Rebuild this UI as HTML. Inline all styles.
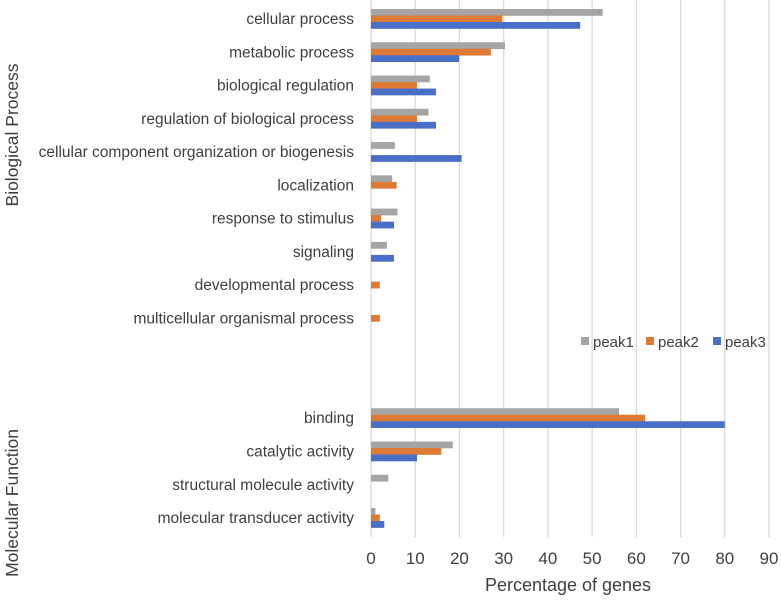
<!DOCTYPE html>
<html><head><meta charset="utf-8"><style>
body{margin:0;background:#fff;}
svg text{font-family:"Liberation Sans",sans-serif;fill:#404040;}
</style></head><body>
<svg id="chart" width="781" height="597" xmlns="http://www.w3.org/2000/svg">
<g id="grid"></g>
<g id="bars"></g>
<g id="ylabels"></g>
<g id="xticks"></g>
<text x="568" y="591" font-size="18" text-anchor="middle">Percentage of genes</text>
<text transform="translate(18,135) rotate(-90)" font-size="17.5" text-anchor="middle">Biological Process</text>
<text transform="translate(18,503) rotate(-90)" font-size="17.5" text-anchor="middle">Molecular Function</text>
<g>
<rect x="581" y="337" width="8" height="8" fill="#a5a5a5"/>
<text x="593" y="347" font-size="15">peak1</text>
<rect x="646" y="337" width="8" height="8" fill="#dd7a36"/>
<text x="658" y="347" font-size="15">peak2</text>
<rect x="713" y="337" width="8" height="8" fill="#4a6fc7"/>
<text x="725" y="347" font-size="15">peak3</text>
</g>
</svg>
<script>
const categories=["cellular process","metabolic process","biological regulation","regulation of biological process","cellular component organization or biogenesis","localization","response to stimulus","signaling","developmental process","multicellular organismal process","","","binding","catalytic activity","structural molecule activity","molecular transducer activity"];
const peak1=[52.4,30.3,13.3,13.0,5.4,4.8,6.0,3.6,0,0,null,null,56.1,18.5,3.9,1.0];
const peak2=[29.7,27.1,10.4,10.4,0,5.8,2.3,0,2.0,2.0,null,null,62.0,15.9,0,2.0];
const peak3=[47.3,19.9,14.7,14.7,20.5,0,5.2,5.2,0,0,null,null,80.0,10.4,0,3.0];
const xTicks=[0,10,20,30,40,50,60,70,80,90];
const NS="http://www.w3.org/2000/svg";
const x0=371,x1=769,xMax=90;
function xs(v){return x0+(x1-x0)*v/xMax;}
const yTop=19,rowH=33.27;
function ys(i){return yTop+i*rowH;}
function mk(tag,attrs,parent){const e=document.createElementNS(NS,tag);for(const k in attrs)e.setAttribute(k,attrs[k]);parent.appendChild(e);return e;}
const grid=document.getElementById('grid'),bars=document.getElementById('bars'),yl=document.getElementById('ylabels'),xt=document.getElementById('xticks');
xTicks.forEach(t=>{
 const l=mk('line',{x1:xs(t),x2:xs(t),y1:0,y2:537,stroke:'#d9d9d9','stroke-width':1.3},grid);
 
 
 const tx=mk('text',{x:xs(t),y:564,'font-size':17,'text-anchor':'middle'},xt);
 tx.textContent=t;
 
 
});
const series=[[peak1,'#a5a5a5','peak1',-10],[peak2,'#dd7a36','peak2',-3.5],[peak3,'#4a6fc7','peak3',3]];
categories.forEach((c,i)=>{
 if(!c)return;
 const t=mk('text',{x:354,y:ys(i)+5,'font-size':15.5,'text-anchor':'end'},yl);
 t.textContent=c;
 
 
 series.forEach(([arr,col,nm,off])=>{
  const v=arr[i];
  if(!v)return;
  const r=mk('rect',{x:x0,y:ys(i)+off,width:xs(v)-x0,height:6.8,fill:col},bars);
  
  
 });
});
</script>
</body></html>
